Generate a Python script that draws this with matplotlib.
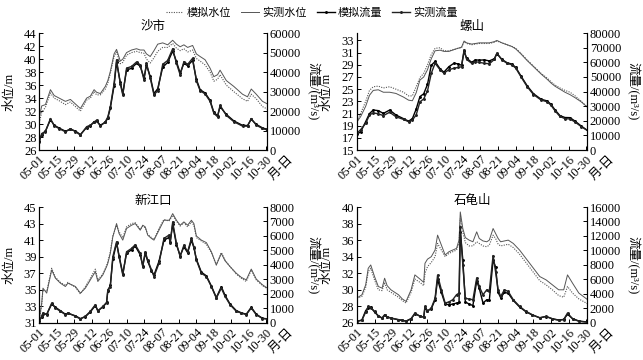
import numpy as np
import matplotlib
matplotlib.use("Agg")
import matplotlib.pyplot as plt

# latin glyphs from a Times-like serif, CJK falls back to Noto
plt.rcParams['font.family'] = ['Liberation Serif', 'Noto Sans CJK SC']
plt.rcParams['axes.unicode_minus'] = False

# x axis: days since 05-01
date_ticks = [0, 14, 28, 42, 56, 70, 84, 98, 112, 126, 140, 154, 168, 182]
date_labels = ["05-01", "05-15", "05-29", "06-12", "06-26", "07-10", "07-24",
               "08-07", "08-21", "09-04", "09-18", "10-02", "10-16", "10-30"]

station_names = ["沙市", "螺山", "新江口", "石龟山"]
series_labels = ["模拟水位", "实测水位", "模拟流量", "实测流量"]

# ---- 沙市 ----
days_shashi = [0, 2, 5, 9, 12, 16, 21, 25, 29, 33, 38, 41, 44, 46, 49, 53, 55, 57, 60, 62,
               65, 67, 70, 74, 78, 81, 84, 86, 89, 92, 95, 99, 103, 107, 110, 113, 116, 119, 123, 126,
               129, 133, 137, 140, 143, 145, 150, 156, 163, 167, 170, 174, 179, 183]
lvl_sim_shashi = [30.2, 31.8, 32.6, 34.8, 34.0, 33.6, 33.0, 33.4, 32.7, 32.0, 33.7, 34.0, 35.0, 34.5, 34.5,
                  35.4, 36.3, 37.8, 40.4, 41.1, 39.3, 39.5, 40.6, 41.0, 41.2, 41.0, 40.9, 40.0, 39.4, 40.2,
                  41.2, 41.8, 41.8, 42.4, 41.7, 41.3, 41.6, 41.1, 41.4, 40.1, 39.7, 39.1, 38.0, 36.6, 36.9,
                  37.6, 36.0, 35.0, 33.9, 33.5, 34.6, 33.9, 32.7, 32.3]
lvl_obs_shashi = [31.0, 32.8, 33.0, 35.3, 34.4, 34.0, 33.5, 33.8, 33.1, 32.4, 34.0, 34.3, 35.3, 34.9, 34.7,
                  35.8, 36.7, 38.1, 40.8, 41.5, 39.7, 40.0, 41.0, 41.4, 41.6, 41.4, 41.4, 40.8, 40.4, 41.3,
                  42.3, 42.5, 42.2, 42.9, 42.3, 41.9, 42.2, 41.8, 42.1, 40.8, 40.4, 39.9, 38.6, 37.3, 37.6,
                  38.3, 36.7, 35.8, 34.6, 34.2, 35.4, 34.6, 33.5, 33.1]
q_sim_shashi = [4800, 8000, 9800, 15600, 12800, 11300, 9700, 10600, 9800, 8000, 11600, 12500, 14600, 14800,
                12800, 14200, 16500, 21500, 33000, 45000, 34800, 29000, 41000, 42000, 44500, 43000, 37000,
                43500, 37800, 29000, 31500, 42500, 45000, 50800, 45500, 39500, 44500, 43300, 46000, 36300,
                31000, 29300, 25500, 19400, 17600, 22300, 18300, 15000, 12700, 12600, 15800, 13200, 11400, 10600]
q_obs_shashi = [4300, 8500, 9500, 16200, 12500, 11000, 9400, 11000, 9500, 7700, 12000, 12800, 14200, 15400,
                12300, 14600, 17000, 22300, 34000, 46300, 34000, 28300, 42000, 42900, 45200, 43700, 36000,
                44600, 37000, 28300, 30500, 44000, 46000, 52000, 44600, 38600, 45400, 44000, 47100, 35500,
                30500, 28800, 25000, 18900, 17100, 23000, 17800, 14600, 12300, 12300, 16200, 12800, 11100, 10300]

# ---- 螺山 ----
days_luoshan = [0, 3, 7, 10, 13, 17, 21, 26, 31, 37, 41, 44, 47, 50, 53, 56, 59, 62, 66, 69,
                73, 77, 80, 83, 85, 87, 91, 94, 97, 101, 105, 109, 111, 115, 119, 123, 126, 130, 135, 140,
                146, 151, 154, 157, 161, 165, 169, 173, 178, 183]
lvl_sim_luoshan = [19.8, 21.0, 23.0, 24.8, 25.4, 25.5, 25.2, 25.4, 25.0, 24.5, 23.9, 23.9, 25.4, 26.9, 27.6,
                   29.0, 30.7, 31.7, 31.8, 31.3, 31.3, 31.5, 31.7, 31.8, 32.8, 32.5, 32.3, 32.4, 32.5, 32.5,
                   32.5, 32.7, 32.9, 32.6, 32.3, 32.0, 31.7, 30.9, 29.8, 28.8, 27.6, 26.8, 26.2, 25.7, 25.2,
                   24.8, 24.5, 23.9, 23.0, 22.0]
lvl_obs_luoshan = [19.6, 20.5, 22.2, 24.0, 24.8, 24.9, 24.5, 24.5, 24.3, 23.7, 23.2, 23.1, 24.4, 26.5, 27.0,
                   28.2, 30.0, 31.3, 31.4, 31.2, 31.2, 31.5, 31.7, 31.9, 32.9, 32.6, 32.4, 32.5, 32.6, 32.6,
                   32.6, 32.8, 33.0, 32.6, 32.3, 32.0, 31.6, 30.8, 29.7, 28.7, 27.5, 26.6, 26.0, 25.5, 25.0,
                   24.5, 24.1, 23.6, 22.9, 22.0]
q_sim_luoshan = [10800, 12500, 19500, 25000, 27400, 27000, 25100, 27400, 24000, 21500, 19800, 21500, 28000,
                 36600, 38500, 45000, 58000, 60600, 55500, 53300, 57100, 59400, 59000, 58000, 67500, 62900,
                 60000, 61700, 61500, 61700, 61000, 62500, 66000, 62000, 59800, 58800, 56500, 50800, 44000,
                 38600, 34800, 33600, 31200, 27600, 23600, 22300, 22200, 19800, 16400, 13300]
q_obs_luoshan = [11400, 14000, 18300, 24000, 25500, 24800, 23600, 25900, 22800, 21000, 19400, 20600, 24000,
                 33000, 35000, 40500, 52500, 59400, 54900, 52600, 55000, 56000, 56500, 57000, 68600, 62000,
                 59400, 60500, 60000, 59400, 59000, 62000, 66300, 61700, 59400, 58300, 56000, 50300, 43400,
                 38000, 34300, 33000, 30600, 27000, 23000, 21500, 21300, 19200, 16000, 13300]

# ---- 新江口 ----
days_xinjiangkou = [0, 2, 3, 6, 10, 13, 17, 21, 23, 29, 33, 37, 41, 45, 47, 51, 54, 55, 57, 59,
                    62, 64, 67, 70, 74, 77, 81, 83, 85, 87, 90, 92, 96, 100, 104, 105, 107, 110, 113, 116,
                    119, 122, 124, 126, 130, 134, 138, 142, 146, 149, 153, 158, 162, 166, 170, 174, 179, 183]
lvl_sim_xinjiangkou = [31.2, 33.2, 35.0, 34.8, 37.6, 36.5, 35.9, 35.5, 35.9, 35.3, 34.5, 35.4, 36.4, 37.5,
                       36.2, 36.9, 37.9, 38.4, 39.6, 41.5, 42.8, 42.0, 41.3, 42.6, 43.0, 43.1, 42.3, 42.7,
                       42.5, 41.7, 41.3, 41.1, 42.4, 43.5, 43.3, 43.5, 44.0, 43.3, 42.7, 43.1, 42.6, 43.2,
                       42.8, 41.3, 40.9, 40.5, 39.5, 38.0, 39.5, 38.6, 37.8, 36.9, 36.4, 36.0, 37.4, 36.2,
                       35.5, 35.1]
lvl_obs_xinjiangkou = [31.4, 33.4, 35.2, 34.6, 37.4, 36.4, 35.8, 35.4, 35.8, 35.4, 34.6, 35.2, 36.2, 37.2,
                       36.0, 36.8, 37.8, 38.2, 39.4, 41.4, 43.0, 41.8, 41.0, 42.4, 42.8, 43.0, 42.2, 42.8,
                       42.6, 41.6, 41.2, 41.0, 42.2, 43.4, 43.4, 43.6, 44.2, 43.4, 42.8, 43.2, 42.8, 43.4,
                       43.0, 41.5, 41.0, 40.7, 39.6, 38.0, 39.4, 38.5, 37.8, 37.0, 36.5, 36.2, 37.5, 36.3,
                       35.6, 35.2]
q_sim_xinjiangkou = [150, 420, 650, 600, 1300, 1080, 840, 600, 660, 490, 300, 430, 760, 1200, 850, 1100,
                     1420, 2200, 2600, 4400, 5500, 4650, 3400, 4800, 5050, 5300, 4700, 3950, 4800, 4250,
                     3600, 3300, 4250, 5700, 5900, 5600, 6800, 5400, 4650, 5250, 4850, 5700, 5200, 4400,
                     3500, 3250, 2550, 1750, 2500, 1900, 1300, 850, 700, 600, 1080, 600, 320, 280]
q_obs_xinjiangkou = [110, 460, 690, 570, 1370, 1030, 800, 570, 690, 460, 270, 460, 800, 1260, 800, 1140,
                     1370, 2290, 2510, 4570, 5600, 4570, 3310, 4910, 5140, 5400, 4800, 3890, 4910, 4340,
                     3660, 3200, 4110, 5830, 6060, 5490, 6970, 5490, 4570, 5370, 4910, 5830, 5260, 4340,
                     3430, 3200, 2510, 1710, 2400, 1830, 1260, 800, 680, 570, 1030, 570, 300, 270]

# ---- 石龟山 ----
days_shiguishan = [0, 4, 7, 9, 11, 14, 17, 20, 22, 24, 27, 33, 36, 39, 43, 46, 50, 53, 54, 56,
                   59, 62, 64, 67, 70, 73, 76, 79, 81, 82, 84, 86, 89, 92, 95, 97, 100, 103, 105, 108,
                   110, 112, 114, 117, 120, 124, 129, 134, 139, 145, 150, 155, 160, 164, 167, 171, 176, 183]
lvl_sim_shiguishan = [29.0, 29.2, 30.3, 32.2, 32.6, 31.2, 30.0, 29.9, 30.9, 30.0, 29.7, 29.1, 28.7, 28.4,
                      29.7, 31.3, 30.9, 30.5, 32.0, 32.8, 33.3, 34.0, 35.6, 34.8, 34.0, 34.4, 34.6, 34.8,
                      35.6, 38.6, 37.0, 35.7, 35.3, 35.3, 35.8, 35.6, 35.3, 35.2, 35.4, 36.6, 36.2, 35.5,
                      35.3, 35.4, 35.5, 35.1, 34.3, 33.3, 32.3, 31.1, 30.6, 30.0, 29.3, 29.1, 30.4, 29.6,
                      28.9, 28.3]
lvl_obs_shiguishan = [29.0, 29.4, 30.6, 32.6, 33.0, 31.6, 30.4, 30.2, 31.4, 30.5, 30.0, 29.4, 28.9, 28.6,
                      30.0, 31.8, 31.3, 30.9, 33.2, 33.7, 34.0, 34.8, 36.6, 35.4, 34.2, 34.6, 34.8, 35.0,
                      36.0, 39.4, 37.4, 36.3, 36.0, 35.8, 37.0, 36.2, 35.9, 35.8, 36.0, 37.4, 36.8, 36.2,
                      35.8, 35.9, 36.0, 35.6, 34.8, 33.8, 32.8, 31.6, 31.2, 30.6, 30.0, 30.0, 31.8, 30.8,
                      29.6, 28.8]
q_sim_shiguishan = [200, 400, 1700, 2100, 2200, 1500, 1000, 650, 1050, 850, 650, 430, 350, 250, 600, 1250,
                    950, 780, 2100, 1700, 1950, 3200, 6000, 4200, 2600, 2510, 2600, 2740, 2830, 12500,
                    8700, 2900, 2600, 2400, 5800, 4800, 2740, 3200, 3100, 8700, 7700, 4200, 3500, 4200,
                    4100, 3100, 2200, 1550, 1100, 720, 880, 580, 400, 480, 1200, 600, 260, 120]
q_obs_shiguishan = [230, 370, 1500, 2290, 2060, 1600, 910, 690, 1140, 800, 690, 460, 380, 230, 550, 1370,
                    910, 820, 2290, 1600, 2060, 3400, 6600, 4570, 2740, 2900, 3200, 3890, 4110, 13300,
                    8000, 3400, 3300, 3200, 6200, 5030, 3890, 4570, 4400, 9300, 7000, 4570, 3660, 4570,
                    4340, 3200, 2290, 1600, 1140, 690, 910, 550, 370, 460, 1370, 550, 230, 90]

# axis ranges (min, last tick, step, top) for level (left) and flow (right)
level_axes = [(26, 44, 2, 44), (15, 33, 2, 34.2), (31, 45, 2, 45), (26, 40, 2, 40)]
flow_axes = [(0, 60000, 10000), (0, 80000, 10000), (0, 8000, 1000), (0, 16000, 2000)]

panels = [
    (days_shashi, lvl_sim_shashi, lvl_obs_shashi, q_sim_shashi, q_obs_shashi),
    (days_luoshan, lvl_sim_luoshan, lvl_obs_luoshan, q_sim_luoshan, q_obs_luoshan),
    (days_xinjiangkou, lvl_sim_xinjiangkou, lvl_obs_xinjiangkou, q_sim_xinjiangkou, q_obs_xinjiangkou),
    (days_shiguishan, lvl_sim_shiguishan, lvl_obs_shiguishan, q_sim_shiguishan, q_obs_shiguishan),
]

# axes boxes in figure fractions [left, bottom, width, height]
boxes = [
    [0.061, 0.583, 0.354, 0.325],
    [0.555, 0.583, 0.358, 0.325],
    [0.061, 0.103, 0.354, 0.322],
    [0.555, 0.103, 0.358, 0.322],
]

fig = plt.figure(figsize=(6.43, 3.6), dpi=100)
fs = 9
handles = []

for i, (days, lsim, lobs, qsim, qobs) in enumerate(panels):
    ax = fig.add_axes(boxes[i])
    ax2 = ax.twinx()

    h1, = ax.plot(days, lsim, ls=(0, (1, 1.2)), color="#555555", lw=0.8)
    h2, = ax.plot(days, lobs, ls="-", color="#555555", lw=0.7)
    h3, = ax2.plot(days, qsim, ls="-", color="black", lw=1.0, marker=".", ms=2.2)
    h4, = ax2.plot(days, qobs, ls="-", color="#222222", lw=1.0, marker=".", ms=2.2)
    if i == 0:
        handles = [h1, h2, h3, h4]

    lo, hi, step, top = level_axes[i]
    ax.set_ylim(lo, top)
    ax.set_yticks(np.arange(lo, hi + 0.01, step))
    qlo, qhi, qstep = flow_axes[i]
    ax2.set_ylim(qlo, qhi)
    ax2.set_yticks(np.arange(qlo, qhi + 1, qstep))

    ax.set_xlim(0, 182.5)
    ax.set_xticks(date_ticks)
    ax.set_xticklabels(date_labels, rotation=45, ha="right", rotation_mode="anchor")

    for a in (ax, ax2):
        a.spines["top"].set_visible(False)
        a.tick_params(direction="in", length=3, labelsize=fs, pad=2, width=0.7)
        for s in a.spines.values():
            s.set_linewidth(0.8)

    # station name just above the plot area
    ax.text(0.5, 1.055, station_names[i], transform=ax.transAxes, ha="center",
            va="center", fontsize=fs)
    ax.set_ylabel("水位/m", fontsize=fs)
    ax.yaxis.set_label_coords(-0.105, 0.5)
    ax2.set_ylabel("流量/(m³/s)", fontsize=fs, rotation=270, ha="center", va="center")
    ax2.yaxis.set_label_coords(1.2, 0.5)
    # unit label after the last date
    ax.text(1.09, -0.03, "月-日", transform=ax.transAxes, rotation=45,
            ha="right", va="top", rotation_mode="anchor", fontsize=fs)

fig.legend(handles, series_labels, loc="center", bbox_to_anchor=(0.485, 0.965),
           ncol=4, frameon=False, fontsize=8, handlelength=1.6, handletextpad=0.3,
           columnspacing=0.9, borderpad=0.1)

fig.savefig("out.png", dpi=100)
